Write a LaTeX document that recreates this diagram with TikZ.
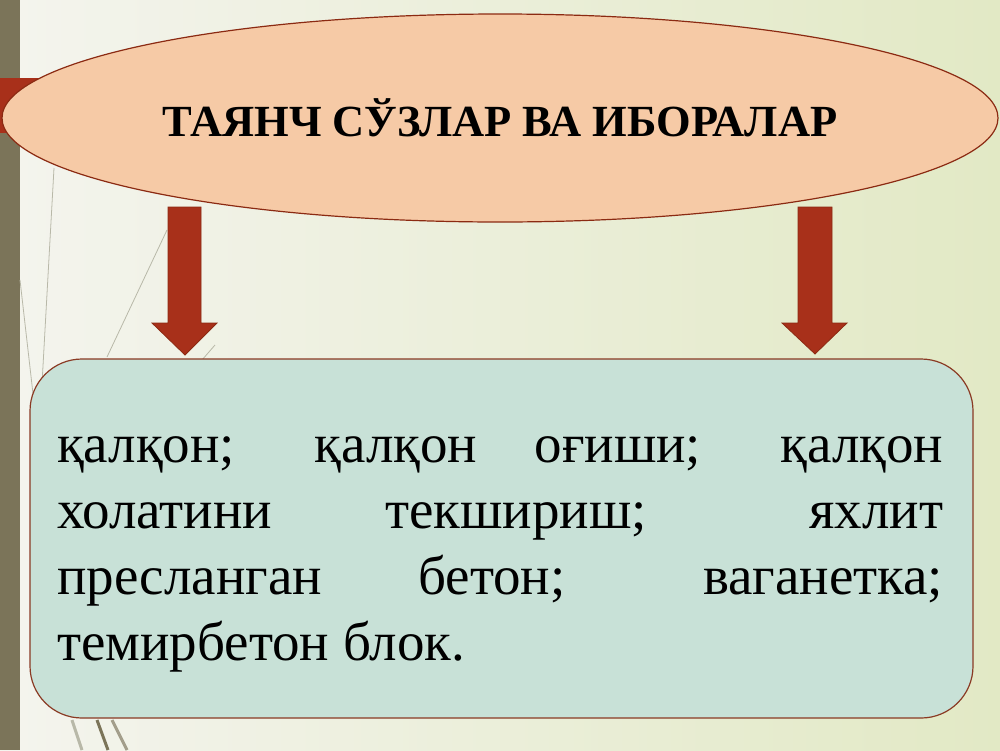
\documentclass[tikz,border=0pt]{standalone}
\usepackage{fontspec}
\setmainfont{Liberation Serif}[BoldFont={Liberation Serif Bold}]
\usetikzlibrary{shapes.geometric}
\definecolor{bgL}{HTML}{F4F4EE}
\definecolor{bgR}{HTML}{E2E9C5}
\definecolor{barcol}{HTML}{7B7459}
\definecolor{peach}{HTML}{F6CAA6}
\definecolor{rimred}{HTML}{8B2A12}
\definecolor{arrowred}{HTML}{A8301A}
\definecolor{boxfill}{HTML}{C8E1D7}
\definecolor{boxrim}{HTML}{8A3A24}
\definecolor{thinline}{HTML}{B8B8A8}
\tikzset{
  titleoval/.style={ellipse, draw=rimred, fill=peach, line width=1.2pt,
    minimum width=996pt, minimum height=208pt, inner sep=0pt,
    font=\fontsize{44.5}{50}\selectfont\bfseries},
  downarrow/.style={fill=arrowred, draw=rimred, line width=0.8pt},
  textbox/.style={draw=boxrim, fill=boxfill, line width=1.2pt, rounded corners=52pt},
  bodyline/.style={anchor=base west, inner sep=0pt, font=\fontsize{55}{66}\selectfont},
  deco/.style={draw=thinline, line width=0.8pt}
}
\begin{document}
\begin{tikzpicture}[x=1pt,y=-1pt]
\useasboundingbox (0,0) rectangle (1000,750);
\shade[left color=bgL, right color=bgR] (0,0) rectangle (1000,750);
% left bar and red tab
\fill[barcol] (0,0) rectangle (20,750);
\fill[arrowred] (0,78) rectangle (40,133);
% decorative thin lines
\draw[deco] (54,168) -- (40,420);
\draw[deco] (20,280) -- (36,420);
\draw[deco] (167,230) -- (107,357);
\draw[deco] (215,345) -- (202,360);
\draw[draw=thinline, line width=3pt] (72,720) -- (82,750);
\draw[draw=barcol, line width=3pt] (97,720) -- (108,750);
\draw[draw=barcol!70, line width=3pt] (112,720) -- (127,750);
% title oval
\node[titleoval] (title) at (500,118) {\raisebox{-4pt}{ТАЯНЧ СЎЗЛАР ВА ИБОРАЛАР}};
% arrows
\path[downarrow] (168,207) -- (201,207) -- (201,323) -- (217,323) -- (185,355)
  -- (152,323) -- (168,323) -- cycle;
\path[downarrow] (798,207) -- (832,207) -- (832,323) -- (847,323) -- (815,354)
  -- (782,323) -- (798,323) -- cycle;
% text box
\draw[textbox] (30,359) rectangle (973,718);
\node[bodyline] (l1) at (57,462) {\makebox[886pt][s]{қалқон; қалқон оғиши; қалқон}};
\node[bodyline] (l2) at (57,528) {\makebox[886pt][s]{холатини текшириш; яхлит}};
\node[bodyline] (l3) at (57,594) {\makebox[886pt][s]{пресланган бетон; ваганетка;}};
\node[bodyline] (l4) at (57,660) {темирбетон блок.};
\end{tikzpicture}
\end{document}
